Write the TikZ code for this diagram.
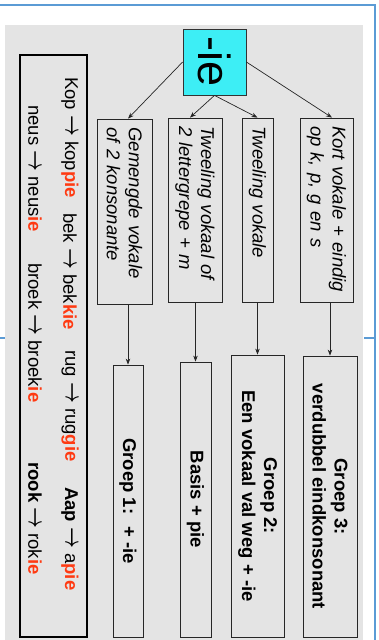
\documentclass[tikz,border=0pt]{standalone}
\usepackage{amsmath}
\usepackage{fontspec}
\setmainfont{Liberation Sans}
\usetikzlibrary{
    arrows.meta,
    calc
}

\definecolor{skyfgrys}{HTML}{E4E4E4}
\definecolor{skyfblou}{HTML}{5B9BD5}
\definecolor{iesiaan}{HTML}{3DEEF5}
\definecolor{ierooi}{HTML}{FF3A12}

\newcommand{\rooi}[1]{\textcolor{ierooi}{\textbf{#1}}}
\newcommand{\pylteken}{\raisebox{0.5pt}{\scalebox{1.05}[1.45]{$\boldsymbol{\rightarrow}$}}}

\tikzset{
    kategorie/.style={draw=black!85, line width=0.8pt, rotate=-90,
        minimum width=184pt, minimum height=54pt, text width=168pt,
        inner xsep=8pt, align=left,
        font=\fontsize{18.5}{22}\itshape\selectfont},
    groep/.style={draw=black!85, line width=0.8pt, rotate=-90,
        minimum height=54pt, align=center,
        font=\fontsize{18.5}{22}\bfseries\selectfont},
    voorbeeld/.style={rotate=-90, anchor=west, inner sep=0pt,
        font=\fontsize{18.5}{22}\selectfont},
    pyl/.style={-{Stealth[length=6pt,width=4.5pt]}, line width=0.7pt, black!85}
}

\begin{document}
\begin{tikzpicture}[x=1pt,y=-1pt]

\useasboundingbox (0,0) rectangle (379,640);

% Slide background and frame
\fill[skyfgrys] (5,25) rectangle (363,640);
\draw[skyfblou, line width=2pt] (0,5) -- (375,5) -- (375,640);
\draw[skyfblou, line width=2pt] (364,338) -- (375,338);
\draw[skyfblou, line width=2pt] (0,338) -- (5,338);

% Top node
\node[draw=black!80, line width=0.8pt, fill=iesiaan, rotate=-90,
      minimum width=66pt, minimum height=63pt, inner sep=0pt,
      font=\fontsize{45}{45}\selectfont] (ie) at (214.5,62) {-ie};

% Rules
\node[kategorie, minimum width=185pt, minimum height=55pt] (gem) at (124.5,211.5)
    {Gemengde vokale\\of 2 konsonante};
\node[kategorie] (tw2) at (195,210) {Tweeling vokaal of\\2 lettergrepe + m};
\node[kategorie, minimum height=31pt] (tw) at (257.5,210) {Tweeling vokale};
\node[kategorie, minimum height=53pt] (kort) at (326.5,210)
    {Kort vokale + eindig\\op k, p, g en s};

% Groups
\node[groep, minimum width=272pt, minimum height=30pt] (g1) at (128,501) {Groep 1:~ + -ie};
\node[groep, minimum width=275pt, minimum height=31pt] (basis) at (195.5,499.5) {Basis + pie};
\node[groep, minimum width=282pt, minimum height=53pt] (g2) at (257.5,496)
    {Groep 2:\\Een vokaal val weg + -ie};
\node[groep, minimum width=281pt] (g3) at (330,496.5)
    {Groep 3:\\verdubbel eindkonsonant};

% Arrows from -ie
\draw[pyl] (ie.south) -- ($(gem.west)+(3.5,0)$);
\draw[pyl] (ie.east) -- ($(tw2.west)+(-5,0)$);
\draw[pyl] (ie.east) -- (tw.west);
\draw[pyl] (ie.north) -- ($(kort.west)+(5.5,0)$);

% Arrows to groups
\foreach \van/\na in {gem/g1, tw2/basis, tw/g2, kort/g3}
{
\draw[pyl] (\van.east -| \na.west) -- (\na.west);
}

% Examples
\node[draw=black, line width=1.5pt, minimum width=67pt, minimum height=582pt,
      inner sep=0pt] (voorbeelde) at (53.5,346) {};

\foreach \naam/\x/\y/\teks in {
    kop/70/77/{Kop \pylteken{} kop\rooi{pie}},
    bek/70/213/{bek \pylteken{} bek\rooi{kie}},
    rug/70/350/{rug \pylteken{} rug\rooi{gie}},
    aap/70/487/{\textbf{Aap} \pylteken{} a\rooi{pie}},
    neus/35/105/{neus \pylteken{} neus\rooi{ie}},
    broek/35/263/{broek \pylteken{} broek\rooi{ie}},
    rook/35/462/{\textbf{rook} \pylteken{} rok\rooi{ie}}}
{
\node[voorbeeld] (\naam) at (\x,\y) {\teks};
}

\end{tikzpicture}
\end{document}
